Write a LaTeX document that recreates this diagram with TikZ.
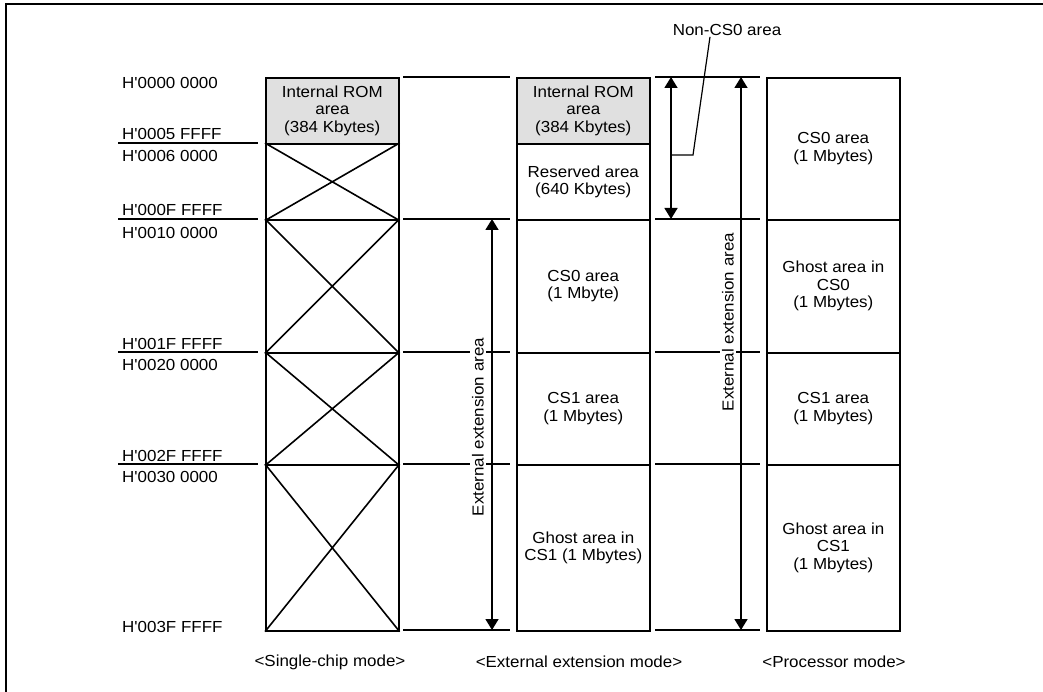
\documentclass[tikz,border=0pt]{standalone}
\usepackage{fontspec}
\setmainfont{Liberation Sans}[FakeStretch=1.06, Ligatures=TeXOff]
\usetikzlibrary{arrows.meta}

\begin{document}
\begin{tikzpicture}[x=1pt, y=-1pt,
  every node/.style={font=\fontsize{16}{17.5}\selectfont},
  membox/.style={draw, line width=1.6pt, anchor=north west, align=center, inner sep=0pt, minimum width=133pt},
  romarea/.style={membox, fill=black!12},
  addr/.style={inner sep=0pt},
  sepline/.style={line width=1.6pt},
  dimarrow/.style={{Triangle[width=13pt,length=11pt]}-{Triangle[width=13pt,length=11pt]}, line width=1.6pt},
  spanlabel/.style={rotate=90, fill=white, inner sep=2pt}
]
\useasboundingbox (0,0) rectangle (1043,692);
\draw[line width=2.8pt] (6,692) -- (6,4) -- (1043,4);

\foreach \y in {143,219,352,464} \draw[sepline] (118,\y) -- (258,\y);
\foreach \y in {77,219,352,464,630} {
  \draw[sepline] (403,\y) -- (510,\y);
  \draw[sepline] (655,\y) -- (760,\y);
}

% single-chip mode
\node[romarea, minimum height=66pt] (sc-rom) at (265,77) {Internal ROM\\area\\(384 Kbytes)};
\foreach \name/\top/\h in {sc-r1/143/76, sc-r2/219/133, sc-r3/352/112, sc-r4/464/166} {
  \node[membox, minimum height=\h pt] (\name) at (265,\top) {};
  \draw[line width=1.6pt] (\name.north west) -- (\name.south east) (\name.north east) -- (\name.south west);
}

% external extension mode
\node[romarea, minimum height=66pt] (ee-rom) at (516,77) {Internal ROM\\area\\(384 Kbytes)};
\node[membox, minimum height=76pt] (ee-res) at (516,143) {Reserved area\\(640 Kbytes)};
\node[membox, minimum height=133pt] (ee-cs0) at (516,219) {CS0 area\\(1 Mbyte)};
\node[membox, minimum height=112pt] (ee-cs1) at (516,352) {CS1 area\\(1 Mbytes)};
\node[membox, minimum height=166pt] (ee-gh1) at (516,464) {Ghost area in\\CS1 (1 Mbytes)};

% processor mode
\node[membox, minimum height=142pt] (pm-cs0) at (766,77) {CS0 area\\(1 Mbytes)};
\node[membox, minimum height=133pt] (pm-gh0) at (766,219) {Ghost area in\\CS0\\(1 Mbytes)};
\node[membox, minimum height=112pt] (pm-cs1) at (766,352) {CS1 area\\(1 Mbytes)};
\node[membox, minimum height=166pt] (pm-gh1) at (766,464) {Ghost area in\\CS1\\(1 Mbytes)};

% addresses
\node[addr, anchor=north west] (ad0) at (122,77) {H'0000 0000};
\node[addr, anchor=base west] (ad1) at (122,140) {H'0005 FFFF};
\node[addr, anchor=north west] (ad2) at (122,150) {H'0006 0000};
\node[addr, anchor=base west] (ad3) at (122,216) {H'000F FFFF};
\node[addr, anchor=north west] (ad4) at (122,227) {H'0010 0000};
\node[addr, anchor=base west] (ad5) at (122,349) {H'001F FFFF};
\node[addr, anchor=north west] (ad6) at (122,359) {H'0020 0000};
\node[addr, anchor=base west] (ad7) at (122,461) {H'002F FFFF};
\node[addr, anchor=north west] (ad8) at (122,471) {H'0030 0000};
\node[addr, anchor=base west] (ad9) at (122,632) {H'003F FFFF};

% span arrows
\coordinate (ext1-top) at (492,219);
\coordinate (ext1-bot) at (492,630);
\coordinate (ext2-top) at (741,77);
\coordinate (ext2-bot) at (741,630);
\coordinate (ncs-top) at (671,77);
\coordinate (ncs-bot) at (671,219);
\coordinate (ncs-tap) at (671,155);
\draw[dimarrow] (ext1-top) -- (ext1-bot);
\draw[dimarrow] (ext2-top) -- (ext2-bot);
\draw[dimarrow] (ncs-top) -- (ncs-bot);
\node[spanlabel] (ext1-lbl) at (478,427) {External extension area};
\node[spanlabel] (ext2-lbl) at (728,322) {External extension area};

\node[inner sep=1pt] (ncs-lbl) at (727,30) {Non-CS0 area};
\draw[line width=1.2pt] (ncs-tap) -- (693,155) -- ([xshift=-17pt]ncs-lbl.south);

% modes
\node (m-sc) at (330,662) {<Single-chip mode>};
\node (m-ee) at (579,662) {<External extension mode>};
\node (m-pm) at (834,662) {<Processor mode>};
\end{tikzpicture}
\end{document}
